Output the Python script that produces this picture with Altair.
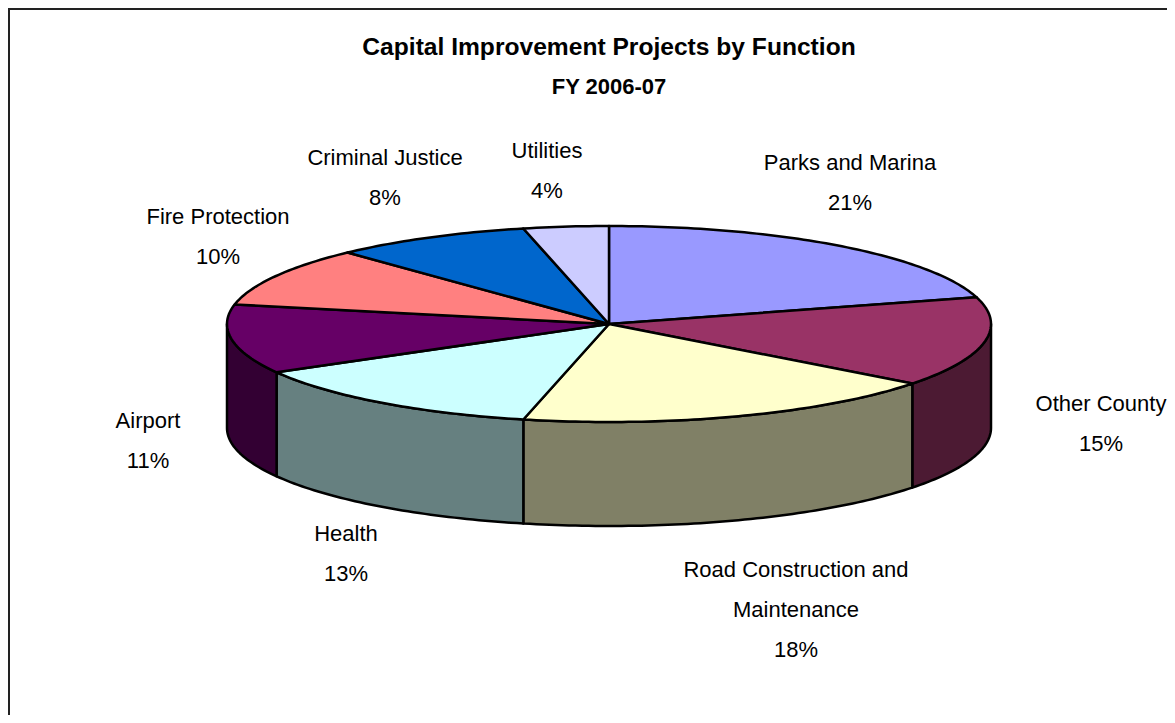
import math
import altair as alt

categories = ["Parks and Marina", "Other County", "Road Construction and Maintenance", "Health",
              "Airport", "Fire Protection", "Criminal Justice", "Utilities"]
shares = [20.6, 14.8, 18.2, 13.2, 11.4, 9.8, 8.4, 3.6]
top_colors = ["#9999FF", "#993366", "#FFFFCC", "#CCFFFF", "#660066", "#FF8080", "#0066CC", "#CCCCFF"]
side_colors = ["#4D4D80", "#4C1A33", "#808066", "#668080", "#330033", "#804040", "#003366", "#666680"]
title_lines = ["Capital Improvement Projects by Function", "FY 2006-07"]
label_lines = [["Parks and Marina"], ["Other County"], ["Road Construction and", "Maintenance"], ["Health"],
               ["Airport"], ["Fire Protection"], ["Criminal Justice"], ["Utilities"]]

# layout (page pixels, chart origin sits at 8,8)
OFF = 8
CX, CY, RX, RY, DEPTH = 609 - OFF, 324 - OFF, 382, 98, 104
label_center = [850, 1101, 796, 346, 148, 218, 385, 547]
label_first_baseline = [170, 411, 577, 541, 428, 224, 165, 158]
LINE_STEP = 40
W, H = 1159, 707


def rim(a_deg, dy=0.0):
    a = math.radians(a_deg)
    return [CX + RX * math.sin(a), CY + dy - RY * math.cos(a)]


def arc_pts(a0, a1, dy=0.0):
    n = max(2, int(abs(a1 - a0)) + 2)
    return [rim(a0 + (a1 - a0) * i / (n - 1), dy) for i in range(n)]


def feature(ring, color):
    ring = ring + [ring[0]]
    return {"type": "Feature", "geometry": {"type": "Polygon", "coordinates": [ring]},
            "properties": {"color": color}}


sides, tops = [], []
start = 0.0
for share, top, side in zip(shares, top_colors, side_colors):
    end = start + share * 3.6
    tops.append(feature([[CX, CY]] + arc_pts(start, end), top))
    lo, hi = max(start, 90.0), min(end, 270.0)
    if lo < hi:
        sides.append(feature(arc_pts(lo, hi) + arc_pts(hi, lo, DEPTH), side))
    start = end

shape = (
    alt.Chart(alt.Data(values=sides + tops))
    .mark_geoshape(stroke="#000000", strokeWidth=2.5, strokeJoin="round")
    .encode(fill=alt.Fill("properties.color:N", scale=None, legend=None))
    .project(type="identity", scale=1, translate=[0, 0])
)

label_rows = []
for lines, share, cx, by in zip(label_lines, shares, label_center, label_first_baseline):
    texts = lines + [f"{round(share)}%"]
    for i, t in enumerate(texts):
        label_rows.append({"t": t, "px": cx - OFF, "py": by - OFF + i * LINE_STEP})


def text_layer(rows, size, weight):
    return alt.Chart(alt.Data(values=rows)).mark_text(
        font="Liberation Sans", fontSize=size, fontWeight=weight, baseline="alphabetic",
        align="center", color="#000000"
    ).encode(x=alt.X("px:Q", scale=None, axis=None), y=alt.Y("py:Q", scale=None, axis=None), text="t:N")


title1 = text_layer([{"t": title_lines[0], "px": 609 - OFF, "py": 55 - OFF}], 24.6, "bold")
title2 = text_layer([{"t": title_lines[1], "px": 609 - OFF, "py": 94 - OFF}], 22, "bold")
labels = text_layer(label_rows, 22, "normal")

frame_top = alt.Chart(alt.Data(values=[{"a": 1}])).mark_rule(color="#222222", strokeWidth=2).encode(
    x=alt.value(0), x2=alt.value(W), y=alt.value(1))
frame_left = alt.Chart(alt.Data(values=[{"a": 1}])).mark_rule(color="#222222", strokeWidth=2).encode(
    x=alt.value(1), y=alt.value(0), y2=alt.value(H))

chart = (
    alt.layer(frame_top, frame_left, shape, title1, title2, labels)
    .properties(width=W, height=H, padding=0, autosize=alt.AutoSizeParams(type="none"))
    .configure_view(stroke="transparent")
)
chart.save("out.html", embed_options={"renderer": "svg", "actions": False})
